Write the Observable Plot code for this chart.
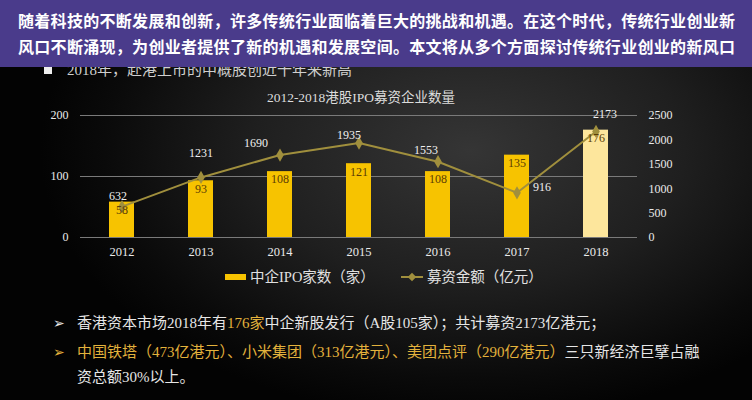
<!DOCTYPE html>
<html>
<head>
<meta charset="utf-8">
<script src="https://cdn.jsdelivr.net/npm/d3@7"></script>
<script src="https://cdn.jsdelivr.net/npm/@observablehq/plot@0.6"></script>
<style>
  html, body { margin: 0; padding: 0; background: #000; }
  #page {
    position: relative; width: 752px; height: 400px; overflow: hidden;
    background:
      radial-gradient(ellipse 430px 270px at 470px 150px, #353535 0%, #1f1f1f 50%, #0a0a0a 85%, #030303 100%);
    font-family: "Liberation Serif", "DejaVu Serif", "Noto Sans CJK SC", serif;
  }
  .banner {
    position: absolute; left: 0; top: 0; width: 752px; height: 67px;
    background: #4a3b8b; z-index: 5;
    font-family: "Noto Sans CJK SC", sans-serif; font-weight: 700; color: #fff;
    font-size: 16px;
  }
  .banner div { position: absolute; left: 18px; width: 717px; text-align: justify; text-align-last: justify; line-height: 20px; }
  .sub { position: absolute; left: 44px; top: 61px; color: #cfcfcf; font-size: 15px; line-height: 18px; white-space: nowrap; }
  .sub .sq { display: inline-block; width: 8px; height: 8px; background: #eee; margin-right: 15px; vertical-align: 1px; }
  .title { position: absolute; left: 0; width: 722px; top: 89px; text-align: center; color: #dcdcdc; font-size: 13.5px; line-height: 18px; }
  #chart { position: absolute; left: 0; top: 85px; }
  .legend { position: absolute; top: 266px; left: 225px; color: #e0e0e0; font-size: 14.5px; line-height: 18px; white-space: nowrap; }
  .legend span { display: inline-block; vertical-align: middle; }
  .note { position: absolute; left: 53px; font-size: 15px; line-height: 20px; color: #e6e6e6; white-space: nowrap; }
  .note .b { display: inline-block; width: 24px; font-family: "DejaVu Sans", sans-serif; font-size: 14px; }
  .gold { color: #e3b23c; }
</style>
</head>
<body>
<div id="page">
  <div class="banner" id="banner"></div>
  <div class="sub" id="sub"></div>
  <div class="title" id="title"></div>
  <div id="chart"></div>
  <div class="legend" id="legend"></div>
  <div class="note" id="note1" style="top:313px"></div>
  <div class="note" id="note2" style="top:342px"></div>
  <div class="note" id="note3" style="top:367px"></div>
</div>
<script>
// ---- data ----
const years = ["2012", "2013", "2014", "2015", "2016", "2017", "2018"];
const ipoCounts = [58, 93, 108, 121, 108, 135, 176];
const fundsRaised = [632, 1231, 1690, 1935, 1553, 916, 2173];
const leftTicks = [0, 100, 200];
const rightTicks = [0, 500, 1000, 1500, 2000, 2500];
const seriesNames = ["中企IPO家数（家）", "募资金额（亿元）"];
const highlightYear = "2018";

const bannerLines = [
  "随着科技的不断发展和创新，许多传统行业面临着巨大的挑战和机遇。在这个时代，传统行业创业新",
  "风口不断涌现，为创业者提供了新的机遇和发展空间。本文将从多个方面探讨传统行业创业的新风口"
];
const subtitle = "2018年，赴港上市的中概股创近十年来新高";
const chartTitle = "2012-2018港股IPO募资企业数量";

// ---- text ----
const banner = document.getElementById("banner");
bannerLines.forEach((t, i) => {
  const d = document.createElement("div");
  d.textContent = t;
  d.style.top = (10 + i * 26) + "px";
  banner.appendChild(d);
});
document.getElementById("sub").innerHTML = '<span class="sq"></span>' + subtitle;
document.getElementById("title").textContent = chartTitle;

const barColor = "#f7c300";
const barHighlight = "#fde69c";
const lineColor = "#a08f3d";

document.getElementById("legend").innerHTML =
  `<span style="width:21px;height:6px;background:${barColor};margin-right:4px"></span>` +
  `<span>${seriesNames[0]}</span>` +
  `<span style="width:22px;height:10px;margin-left:26px;margin-right:4px;position:relative">` +
    `<span style="position:absolute;left:0;top:4px;width:22px;height:2px;background:${lineColor}"></span>` +
    `<span style="position:absolute;left:8px;top:2px;width:6px;height:6px;background:${lineColor};transform:rotate(45deg)"></span>` +
  `</span>` +
  `<span>${seriesNames[1]}</span>`;

document.getElementById("note1").innerHTML =
  '<span class="b">➢</span>香港资本市场2018年有<span class="gold">176家</span>中企新股发行（A股105家）；共计募资2173亿港元；';
document.getElementById("note2").innerHTML =
  '<span class="b gold">➢</span><span class="gold">中国铁塔（473亿港元）、小米集团（313亿港元）、美团点评（290亿港元）</span>三只新经济巨擘占融';
document.getElementById("note3").innerHTML =
  '<span class="b"></span>资总额30%以上。';

// ---- chart ----
const k = leftTicks[leftTicks.length - 1] / rightTicks[rightTicks.length - 1];
const rows = years.map((y, i) => ({ year: y, count: ipoCounts[i], funds: fundsRaised[i], fy: fundsRaised[i] * k }));

const serif = "Liberation Serif, DejaVu Serif, serif";
// label nudges (style only)
const nudge = {
  "2012": [-4, -11], "2013": [0, -24], "2014": [-24, -12], "2015": [-10, -8],
  "2016": [-12, -12], "2017": [25, -6], "2018": [9, -17]
};
const lineLabelMarks = years.map(y => Plot.text(rows.filter(d => d.year === y), {
  x: "year", y: "fy", text: d => String(d.funds), dx: nudge[y][0], dy: nudge[y][1],
  fill: "#f0f0f0", fontSize: 12, fontFamily: serif
}));

const chart = Plot.plot({
  width: 752, height: 175,
  marginTop: 30, marginBottom: 23, marginLeft: 80, marginRight: 115,
  x: { domain: years, paddingInner: 0.685, paddingOuter: 0.345, axis: null },
  y: { domain: [0, 200], axis: null },
  color: { type: "identity" },
  style: { background: "transparent", fontFamily: serif, overflow: "visible" },
  marks: [
    Plot.ruleY(leftTicks, { stroke: "#7a7a7a", strokeWidth: 1 }),
    Plot.barY(rows, { x: "year", y: "count", fill: d => d.year === highlightYear ? barHighlight : barColor }),
    Plot.line(rows, { x: "year", y: "fy", stroke: lineColor, strokeWidth: 2 }),
    Plot.dot(rows, { x: "year", y: "fy", symbol: "diamond", r: 4, fill: lineColor }),
    Plot.text(rows, { x: "year", y: "count", text: d => String(d.count), dy: 8, fill: "#5b3d05", fontSize: 12, fontFamily: serif }),
    ...lineLabelMarks,
    Plot.axisY({ ticks: leftTicks, anchor: "left", tickSize: 0, tickPadding: 12, fill: "#eaeaea", fontSize: 12, fontFamily: serif, label: null }),
    Plot.axisY(rightTicks.map(v => v * k), { anchor: "right", tickSize: 0, tickPadding: 11, tickFormat: d => String(Math.round(d / k)), fill: "#eaeaea", fontSize: 12, fontFamily: serif, label: null }),
    Plot.axisX({ anchor: "bottom", tickSize: 0, tickPadding: 10, fill: "#eaeaea", fontSize: 12.5, fontFamily: serif, label: null })
  ]
});
document.getElementById("chart").appendChild(chart);
</script>
</body>
</html>
